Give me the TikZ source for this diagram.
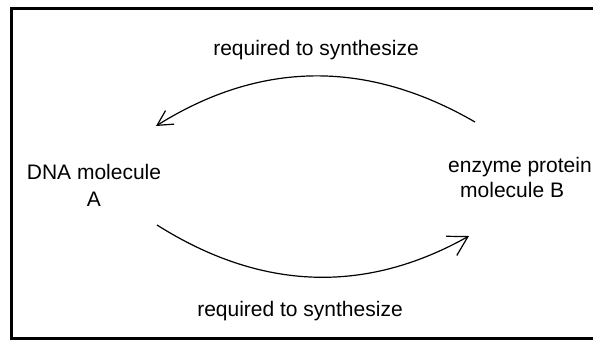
\documentclass[tikz,border=0pt]{standalone}
\usepackage{fontspec}
\setmainfont{Liberation Sans}
\usetikzlibrary{arrows.meta}
\begin{document}
\begin{tikzpicture}[x=1bp,y=-1bp,
  lbl/.style={font=\fontsize{21bp}{26bp}\selectfont, inner sep=0pt},
  conn/.style={line width=1.2bp}]
\useasboundingbox (0,0) rectangle (593,339);
\draw[line width=3bp] (594,8) -- (11,8) -- (11,338) -- (594,338);
\node[lbl, anchor=base, align=center, font=\fontsize{21bp}{27bp}\selectfont] (dna) at (94,206) {DNA molecule\\A};
\node[lbl, anchor=base west, align=left, font=\fontsize{21bp}{25bp}\selectfont] (enz) at (448,197) {enzyme protein\\\hspace*{12bp}molecule B};
\node[lbl, anchor=base] (top) at (316,55) {required to synthesize};
\node[lbl, anchor=base] (bot) at (300,316) {required to synthesize};
\coordinate (t1) at (475,122);
\coordinate (t2) at (156,126);
\coordinate (b1) at (157,225);
\coordinate (b2) at (469,236);
\draw[conn, -{Straight Barb[length=15bp,width=16bp]}] (t1) .. controls (366.7,59.3) and (260.3,60.7) .. (t2);
\draw[conn, -{Straight Barb[length=19bp,width=22bp]}] (b1) .. controls (261,290.7) and (365,294.3) .. (b2);
\end{tikzpicture}
\end{document}
